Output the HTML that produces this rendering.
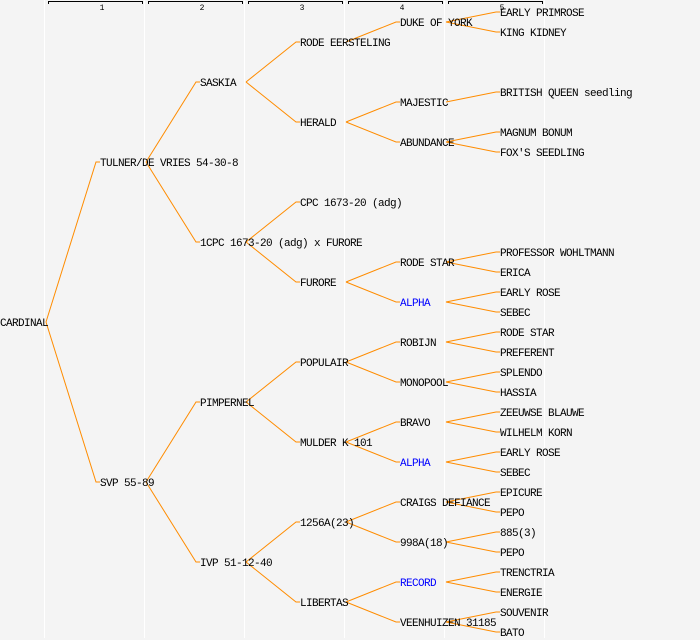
<!DOCTYPE html>
<html><head><meta charset="utf-8"><style>
html,body{margin:0;padding:0;background:#f4f4f4;}
svg{display:block;}
text{font-family:"Liberation Mono",monospace;font-size:11px;letter-spacing:-0.6px;fill:#000;}
</style></head><body>
<svg width="700" height="640" viewBox="0 0 700 640" xmlns="http://www.w3.org/2000/svg">
<rect width="700" height="640" fill="#f4f4f4"/>
<g stroke="#ffffff" stroke-width="1">
<line x1="44.5" y1="0" x2="44.5" y2="638"/>
<line x1="144.5" y1="0" x2="144.5" y2="638"/>
<line x1="244.5" y1="0" x2="244.5" y2="638"/>
<line x1="344.5" y1="0" x2="344.5" y2="638"/>
<line x1="444.5" y1="0" x2="444.5" y2="638"/>
<line x1="544.5" y1="0" x2="544.5" y2="638"/>
</g>
<g stroke="#000" stroke-width="1" fill="none">
<polyline points="48.5,4 48.5,1.5 142.5,1.5 142.5,4"/>
<polyline points="148.5,4 148.5,1.5 242.5,1.5 242.5,4"/>
<polyline points="248.5,4 248.5,1.5 342.5,1.5 342.5,4"/>
<polyline points="348.5,4 348.5,1.5 442.5,1.5 442.5,4"/>
<polyline points="448.5,4 448.5,1.5 542.5,1.5 542.5,4"/>
</g>
<g text-anchor="middle">
<text x="102" y="10" style="font-size:8px;letter-spacing:0">1</text>
<text x="202" y="10" style="font-size:8px;letter-spacing:0">2</text>
<text x="302" y="10" style="font-size:8px;letter-spacing:0">3</text>
<text x="402" y="10" style="font-size:8px;letter-spacing:0">4</text>
<text x="502" y="10" style="font-size:8px;letter-spacing:0">5</text>
</g>
<g stroke="#ff8c00" stroke-width="1" fill="none">
<polyline points="46,322 96,162 100,162"/><polyline points="46,322 96,482 100,482"/>
<polyline points="146,162 196,82 200,82"/><polyline points="146,162 196,242 200,242"/>
<polyline points="146,482 196,402 200,402"/><polyline points="146,482 196,562 200,562"/>
<polyline points="246,82 296,42 300,42"/><polyline points="246,82 296,122 300,122"/>
<polyline points="246,242 296,202 300,202"/><polyline points="246,242 296,282 300,282"/>
<polyline points="246,402 296,362 300,362"/><polyline points="246,402 296,442 300,442"/>
<polyline points="246,562 296,522 300,522"/><polyline points="246,562 296,602 300,602"/>
<polyline points="346,42 396,22 400,22"/>
<polyline points="346,122 396,102 400,102"/><polyline points="346,122 396,142 400,142"/>
<polyline points="346,282 396,262 400,262"/><polyline points="346,282 396,302 400,302"/>
<polyline points="346,362 396,342 400,342"/><polyline points="346,362 396,382 400,382"/>
<polyline points="346,442 396,422 400,422"/><polyline points="346,442 396,462 400,462"/>
<polyline points="346,522 396,502 400,502"/><polyline points="346,522 396,542 400,542"/>
<polyline points="346,602 396,582 400,582"/><polyline points="346,602 396,622 400,622"/>
<polyline points="446,22 496,12 500,12"/><polyline points="446,22 496,32 500,32"/>
<polyline points="446,102 496,92 500,92"/>
<polyline points="446,142 496,132 500,132"/><polyline points="446,142 496,152 500,152"/>
<polyline points="446,262 496,252 500,252"/><polyline points="446,262 496,272 500,272"/>
<polyline points="446,302 496,292 500,292"/><polyline points="446,302 496,312 500,312"/>
<polyline points="446,342 496,332 500,332"/><polyline points="446,342 496,352 500,352"/>
<polyline points="446,382 496,372 500,372"/><polyline points="446,382 496,392 500,392"/>
<polyline points="446,422 496,412 500,412"/><polyline points="446,422 496,432 500,432"/>
<polyline points="446,462 496,452 500,452"/><polyline points="446,462 496,472 500,472"/>
<polyline points="446,502 496,492 500,492"/><polyline points="446,502 496,512 500,512"/>
<polyline points="446,542 496,532 500,532"/><polyline points="446,542 496,552 500,552"/>
<polyline points="446,582 496,572 500,572"/><polyline points="446,582 496,592 500,592"/>
<polyline points="446,622 496,612 500,612"/><polyline points="446,622 496,632 500,632"/>
</g>
<g>
<text x="0" y="326">CARDINAL</text>
<text x="100" y="166">TULNER/DE VRIES 54-30-8</text>
<text x="100" y="486">SVP 55-89</text>
<text x="200" y="86">SASKIA</text>
<text x="200" y="246">1CPC 1673-20 (adg) x FURORE</text>
<text x="200" y="406">PIMPERNEL</text>
<text x="200" y="566">IVP 51-12-40</text>
<text x="300" y="46">RODE EERSTELING</text>
<text x="300" y="126">HERALD</text>
<text x="300" y="206">CPC 1673-20 (adg)</text>
<text x="300" y="286">FURORE</text>
<text x="300" y="366">POPULAIR</text>
<text x="300" y="446">MULDER K 101</text>
<text x="300" y="526">1256A(23)</text>
<text x="300" y="606">LIBERTAS</text>
<text x="400" y="26">DUKE OF YORK</text>
<text x="400" y="106">MAJESTIC</text>
<text x="400" y="146">ABUNDANCE</text>
<text x="400" y="266">RODE STAR</text>
<text x="400" y="306" style="fill:#0000ff">ALPHA</text>
<text x="400" y="346">ROBIJN</text>
<text x="400" y="386">MONOPOOL</text>
<text x="400" y="426">BRAVO</text>
<text x="400" y="466" style="fill:#0000ff">ALPHA</text>
<text x="400" y="506">CRAIGS DEFIANCE</text>
<text x="400" y="546">998A(18)</text>
<text x="400" y="586" style="fill:#0000ff">RECORD</text>
<text x="400" y="626">VEENHUIZEN 31185</text>
<text x="500" y="16">EARLY PRIMROSE</text>
<text x="500" y="36">KING KIDNEY</text>
<text x="500" y="96">BRITISH QUEEN seedling</text>
<text x="500" y="136">MAGNUM BONUM</text>
<text x="500" y="156">FOX'S SEEDLING</text>
<text x="500" y="256">PROFESSOR WOHLTMANN</text>
<text x="500" y="276">ERICA</text>
<text x="500" y="296">EARLY ROSE</text>
<text x="500" y="316">SEBEC</text>
<text x="500" y="336">RODE STAR</text>
<text x="500" y="356">PREFERENT</text>
<text x="500" y="376">SPLENDO</text>
<text x="500" y="396">HASSIA</text>
<text x="500" y="416">ZEEUWSE BLAUWE</text>
<text x="500" y="436">WILHELM KORN</text>
<text x="500" y="456">EARLY ROSE</text>
<text x="500" y="476">SEBEC</text>
<text x="500" y="496">EPICURE</text>
<text x="500" y="516">PEPO</text>
<text x="500" y="536">885(3)</text>
<text x="500" y="556">PEPO</text>
<text x="500" y="576">TRENCTRIA</text>
<text x="500" y="596">ENERGIE</text>
<text x="500" y="616">SOUVENIR</text>
<text x="500" y="636">BATO</text>
</g>
</svg>
</body></html>
